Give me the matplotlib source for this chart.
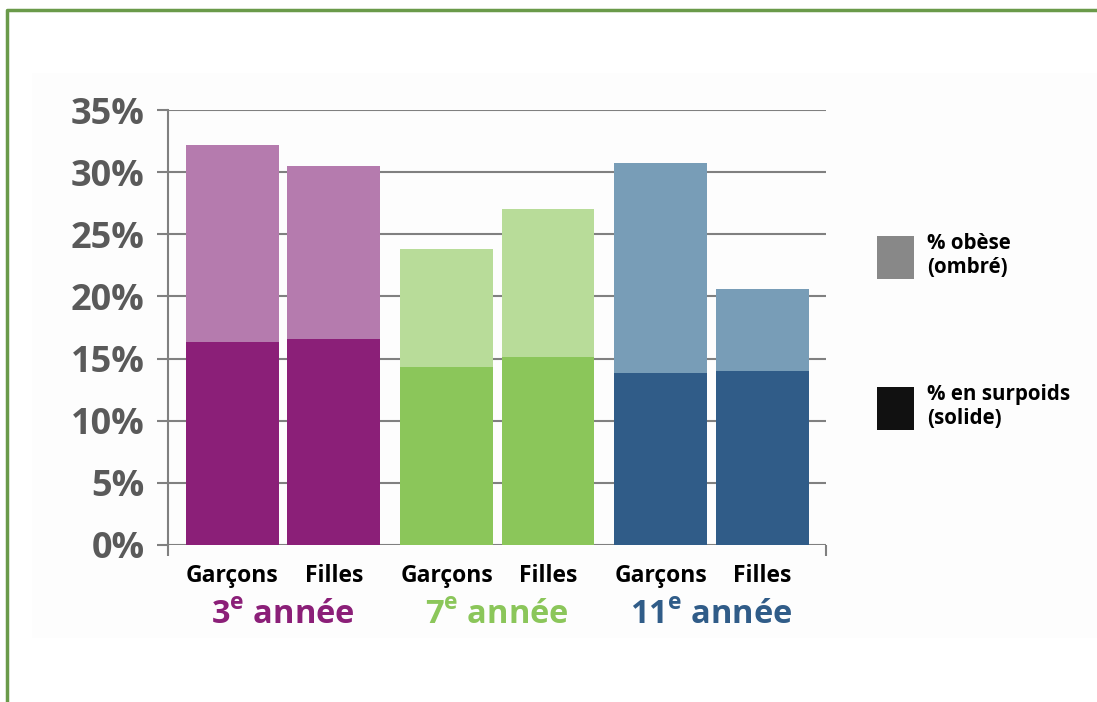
import numpy as np
import matplotlib
matplotlib.use('Agg')
import matplotlib.pyplot as plt
from matplotlib.patches import Patch, Rectangle
from matplotlib.lines import Line2D

plt.rcParams['font.family'] = ['Open Sans', 'DejaVu Sans']
plt.rcParams['mathtext.fontset'] = 'custom'
plt.rcParams['mathtext.bf'] = 'Open Sans:bold'
plt.rcParams['mathtext.rm'] = 'Open Sans:bold'

# data: % overweight (solid part) and % obese (shaded part, stacked on top)
grades = ['3', '7', '11']
sexes = ['Garçons', 'Filles']
surpoids = [16.3, 16.6, 14.3, 15.1, 13.8, 14.0]
obese = [15.9, 13.9, 9.5, 11.9, 16.9, 6.6]
yticks = [0, 5, 10, 15, 20, 25, 30, 35]

solid_colors = ['#8b1f78', '#8b1f78', '#8bc65a', '#8bc65a', '#305c88', '#305c88']
light_colors = ['#b57bae', '#b57bae', '#b8dc99', '#b8dc99', '#789db7', '#789db7']
grade_colors = ['#8b1f78', '#8bc65a', '#305c88']

# bar positions: two bars per grade, small extra gap between grades
gap = 0.11
x = np.array([g * (2 + gap) + s for g in range(len(grades)) for s in range(len(sexes))])
w = 0.916

fig = plt.figure(figsize=(10.97, 7.02), dpi=100)

# faint background panel and green frame
fig.add_artist(Rectangle((32 / 1097, 1 - 638 / 702), 1 - 32 / 1097, (638 - 73) / 702,
                         transform=fig.transFigure, facecolor='#fdfdfd', edgecolor='none', zorder=0))
fig.add_artist(Line2D([7 / 1097, 7 / 1097, 1.0], [0.0, 1 - 10 / 702, 1 - 10 / 702],
                      transform=fig.transFigure, color='#6a9a4a', lw=2.5))

ax = fig.add_axes([168 / 1097, 1 - 545 / 702, (826 - 168) / 1097, (545 - 110) / 702])
ax.patch.set_alpha(0)

ax.bar(x, surpoids, width=w, color=solid_colors, zorder=3)
ax.bar(x, obese, width=w, bottom=surpoids, color=light_colors, zorder=3)

ax.set_xlim(x[0] - 0.635, x[-1] + 0.63)
ax.set_ylim(0, 35)
ax.set_yticks(yticks)
ax.set_yticklabels([f'{v}%' for v in yticks], fontsize=26, fontweight='bold', color='#5a5a5a')
ax.grid(axis='y', color='#808080', lw=1.5, zorder=0)
ax.set_axisbelow(True)

ax.set_xticks(x)
ax.set_xticklabels(sexes * len(grades), fontsize=16.5, fontweight='bold', color='black')
ax.set_xticks([x[0] - 0.635, x[-1] + 0.63], minor=True)
ax.tick_params(axis='x', which='major', length=0, pad=14)
ax.tick_params(axis='x', which='minor', length=8, width=1.5, color='#808080')
ax.tick_params(axis='y', length=8, width=1.5, color='#808080', pad=9)

for side in ['top', 'right', 'bottom']:
    ax.spines[side].set_visible(False)
ax.spines['left'].set_color('#808080')
ax.spines['left'].set_linewidth(1.5)

# grade labels under each pair
for g, grade in enumerate(grades):
    cx = x[2 * g:2 * g + 2].mean()
    ax.text(cx, -0.162, grade + r'$^{\mathbf{e}}$ année', transform=ax.get_xaxis_transform(),
            ha='center', va='center', fontsize=23.5, fontweight='bold', color=grade_colors[g])

handles = [Patch(facecolor='#888888'), Patch(facecolor='#111111')]
fig.legend(handles, ['% obèse\n(ombré)', '% en surpoids\n(solide)'],
           loc='upper left', bbox_to_anchor=(877 / 1097, 1 - 233 / 702), frameon=False,
           borderpad=0, borderaxespad=0, handlelength=1.8, handleheight=2.84,
           handletextpad=0.65, labelspacing=5.1,
           prop={'family': 'Open Sans', 'weight': 'bold', 'size': 14.8})

fig.savefig('out.png', dpi=100)
